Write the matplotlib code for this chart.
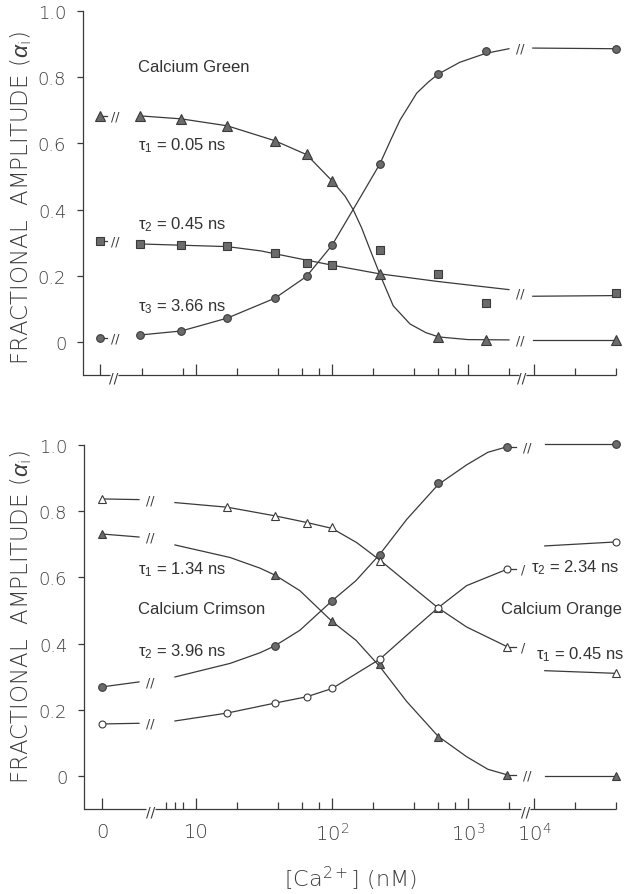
import numpy as np
import matplotlib
matplotlib.use("Agg")
import matplotlib.pyplot as plt

plt.rcParams['mathtext.fontset'] = 'custom'
plt.rcParams['mathtext.rm'] = 'Liberation Sans'
plt.rcParams['mathtext.it'] = 'Liberation Sans:italic'
plt.rcParams['mathtext.bf'] = 'Liberation Sans:bold'

# ---------------- data ----------------
# Calcium Green (top panel); concentrations in nM
conc_top = [0, 3.9, 7.8, 17, 38, 65, 100, 225, 602, 1350, 39800]
green_t1 = [0.683, 0.683, 0.674, 0.653, 0.608, 0.568, 0.487, 0.204, 0.015, 0.006, 0.006]
green_t2 = [0.304, 0.295, 0.292, 0.289, 0.268, 0.238, 0.232, 0.277, 0.204, 0.117, 0.147]
green_t3 = [0.012, 0.021, 0.033, 0.072, 0.132, 0.198, 0.292, 0.538, 0.809, 0.878, 0.884]

fit_t1_conc = [3.9, 7.8, 17, 38, 65, 100, 125, 143, 165, 190, 225, 282, 375, 490, 610, 1000, 2000]
fit_t1 = [0.683, 0.674, 0.653, 0.608, 0.566, 0.487, 0.44, 0.40, 0.345, 0.28, 0.204, 0.109, 0.054, 0.028, 0.015, 0.007, 0.006]
fit_t2_conc = [3.9, 17, 30, 60, 100, 222, 590, 1225, 2000]
fit_t2 = [0.296, 0.288, 0.275, 0.25, 0.232, 0.206, 0.183, 0.168, 0.158]
fit_t3_conc = [3.9, 7.8, 17, 38, 65, 100, 143, 180, 225, 270, 316, 420, 510, 602, 870, 1350, 2000]
fit_t3 = [0.021, 0.033, 0.072, 0.132, 0.198, 0.292, 0.40, 0.47, 0.538, 0.61, 0.67, 0.752, 0.785, 0.809, 0.845, 0.872, 0.886]

post_top_conc = [9800, 39800]
post_green_t1 = [0.006, 0.006]
post_green_t2 = [0.138, 0.140]
post_green_t3 = [0.888, 0.886]

# Calcium Crimson / Calcium Orange (bottom panel)
conc_crim = [0, 38, 100, 225, 602, 1950, 39800]
crim_t1 = [0.731, 0.607, 0.467, 0.338, 0.118, 0.003, 0.0]
crim_t2 = [0.269, 0.393, 0.529, 0.668, 0.885, 0.995, 1.003]
conc_orng = [0, 17, 38, 65, 100, 225, 602, 1950, 39800]
orng_t1 = [0.837, 0.813, 0.786, 0.765, 0.753, 0.65, 0.508, 0.39, 0.31]
orng_t2 = [0.157, 0.19, 0.22, 0.239, 0.266, 0.353, 0.508, 0.625, 0.707]

fit_crim_conc = [7, 17.8, 29.5, 38, 58, 100, 150, 225, 354, 602, 977, 1400, 1950]
fit_crim_t1 = [0.698, 0.66, 0.628, 0.607, 0.56, 0.467, 0.41, 0.33, 0.225, 0.12, 0.058, 0.02, 0.003]
fit_crim_t2 = [0.299, 0.34, 0.372, 0.393, 0.44, 0.529, 0.59, 0.67, 0.775, 0.88, 0.94, 0.978, 0.995]
fit_orng_conc = [7, 17, 38, 65, 100, 152, 225, 375, 602, 977, 1950]
fit_orng_t1 = [0.826, 0.812, 0.786, 0.766, 0.748, 0.705, 0.652, 0.577, 0.508, 0.45, 0.39]
fit_orng_t2 = [0.166, 0.19, 0.22, 0.239, 0.264, 0.31, 0.353, 0.434, 0.508, 0.575, 0.625]

zero_dash_crim_t1 = 0.722
zero_dash_crim_t2 = 0.284
zero_dash_orng_t1 = 0.835
zero_dash_orng_t2 = 0.159

post_bot_conc = [12000, 39800]
post_crim_t1 = [0.0, 0.0]
post_crim_t2 = [1.003, 1.003]
post_orng_t1 = [0.318, 0.31]
post_orng_t2 = [0.695, 0.707]

ytick_vals = [0, 0.2, 0.4, 0.6, 0.8, 1.0]
ytick_labels = ['0', '0.2', '0.4', '0.6', '0.8', '1.0']
xmajor = [0, 10, 100, 1000, 10000]
xmajor_labels = ['0', '10', r'$\mathregular{10^2}$', r'$\mathregular{10^3}$', r'$\mathregular{10^4}$']
xminor_top = [4, 8, 20, 40, 60, 80, 200, 400, 600, 800, 2000, 20000, 40000]
xminor_bot = [6, 7, 8, 20, 40, 60, 80, 200, 400, 600, 800, 2000, 20000, 40000]

# ---------------- layout / broken log scale ----------------
W, H = 629, 895
fig = plt.figure(figsize=(W / 100, H / 100), dpi=100)
fig.patch.set_facecolor('white')

DEC, PX10 = 136.0, 196.0


def u_of_px(px):
    return 1 + (px - PX10) / DEC


SHIFT = 4 - u_of_px(534)
C1, C2 = 2400.0, 8500.0


def make_scale(zero_px, brk_px):
    u0 = u_of_px(zero_px)
    ub = u_of_px(brk_px)
    ua = ub - 0.02
    cb = 10 ** ub
    l1 = np.log10(C1)
    l2 = np.log10(C2) - SHIFT

    def fwd(x):
        x = np.asarray(x, dtype=float)
        with np.errstate(all='ignore'):
            lx = np.log10(np.where(x > 0, x, 1.0))
            r = np.select([x <= 1, x < cb, x <= C1, x < C2],
                          [u0 + (ua - u0) * x, ua + 0.02 * (x - 1) / (cb - 1), lx,
                           l1 + (l2 - l1) * (x - C1) / (C2 - C1)],
                          lx - SHIFT)
        return r

    def inv(u):
        u = np.asarray(u, dtype=float)
        with np.errstate(all='ignore'):
            r = np.select([u <= ua, u < ub, u <= l1, u < l2],
                          [(u - u0) / (ua - u0), 1 + (u - ua) / 0.02 * (cb - 1), 10 ** u,
                           C1 + (u - l1) / (l2 - l1) * (C2 - C1)],
                          10 ** (u + SHIFT))
        return r
    return fwd, inv


LC = '#3a3a3a'
TC = '#3c3c3c'
FILL = '#6b6b6b'
NUMFONT = dict(family='DejaVu Sans', weight='light')
ANNFONT = dict(family='Liberation Sans', size=12, color='#333333')


def setup(ax, left_px, zero_px, brk_px, axis_gaps, brk_marks, minor, labels):
    fwd, inv = make_scale(zero_px, brk_px)
    ax.set_xscale('function', functions=(fwd, inv))
    cpx = lambda px: float(inv(np.array([u_of_px(px)]))[0])
    ax.set_xlim(cpx(left_px), cpx(616))
    ax.set_ylim(-0.1, 1.0)
    for s in ['top', 'right', 'bottom']:
        ax.spines[s].set_visible(False)
    ax.spines['left'].set_color(LC)
    ax.spines['left'].set_linewidth(0.9)
    ax.set_yticks(ytick_vals)
    ax.set_yticklabels(ytick_labels, fontsize=13, color=TC, **NUMFONT)
    ax.tick_params(axis='y', direction='out', length=4, width=0.9, color=LC, pad=8)
    ax.set_xticks(xmajor)
    ax.set_xticks(minor, minor=True)
    if labels:
        ax.set_xticklabels(xmajor_labels, fontsize=14, color=TC, **NUMFONT)
    else:
        ax.set_xticklabels([])
    ax.set_xticklabels([], minor=True)
    ax.tick_params(axis='x', which='major', direction='in', length=8, width=0.9, color=LC, pad=9)
    ax.tick_params(axis='x', which='minor', direction='in', length=5, width=0.9, color=LC)
    for a, b in axis_gaps:
        ax.plot([cpx(a), cpx(b)], [-0.1, -0.1], color=LC, lw=0.9, clip_on=False, solid_capstyle='butt')
    for p in brk_marks:
        ax.text(cpx(p), -0.107, '//', ha='center', va='center', fontsize=10, color=LC,
                family='DejaVu Sans', clip_on=False)
    return cpx


def mk(ax, x, y, marker, filled, ms):
    ax.plot(x, y, ls='none', marker=marker, ms=ms, mfc=FILL if filled else 'white',
            mec=LC, mew=0.8, zorder=4, clip_on=False)


def ln(ax, x, y):
    ax.plot(x, y, color=LC, lw=0.9, zorder=2, clip_on=False)


def slash(ax, x, y, s='//'):
    ax.text(x, y, s, ha='center', va='center', fontsize=9, color=LC, family='DejaVu Sans', zorder=5)


# ---------------- top panel ----------------
axT = fig.add_axes([83 / W, 1 - 376 / H, (616 - 83) / W, (376 - 12) / H])
cT = setup(axT, 83, 100, 113, [(83, 110), (118, 519), (526, 616)], [114, 522], xminor_top, False)

ln(axT, fit_t1_conc, fit_t1)
ln(axT, fit_t2_conc, fit_t2)
ln(axT, fit_t3_conc, fit_t3)
for ser, post, fit in [(green_t1, post_green_t1, fit_t1), (green_t2, post_green_t2, fit_t2),
                       (green_t3, post_green_t3, fit_t3)]:
    ln(axT, [0, cT(107)], [ser[0], ser[0]])
    slash(axT, cT(115), ser[0])
    slash(axT, cT(520), (fit[-1] + post[0]) / 2)
    ln(axT, post_top_conc, post)
mk(axT, conc_top, green_t1, '^', True, 6.5)
mk(axT, conc_top, green_t2, 's', True, 5.5)
mk(axT, conc_top, green_t3, 'o', True, 5.5)

# ---------------- bottom panel ----------------
axB = fig.add_axes([84 / W, 1 - 810 / H, (616 - 84) / W, (810 - 446) / H])
cB = setup(axB, 84, 102, 150, [(84, 146), (155, 521), (530, 616)], [151, 526], xminor_bot, True)

ln(axB, fit_crim_conc, fit_crim_t1)
ln(axB, fit_crim_conc, fit_crim_t2)
ln(axB, fit_orng_conc, fit_orng_t1)
ln(axB, fit_orng_conc, fit_orng_t2)
for conc, ser, dend, post, s in [(conc_crim, crim_t1, zero_dash_crim_t1, post_crim_t1, '//'),
                                 (conc_crim, crim_t2, zero_dash_crim_t2, post_crim_t2, '//'),
                                 (conc_orng, orng_t1, zero_dash_orng_t1, post_orng_t1, '/'),
                                 (conc_orng, orng_t2, zero_dash_orng_t2, post_orng_t2, '/')]:
    ln(axB, [0, cB(139)], [ser[0], dend])
    slash(axB, cB(150), dend, '//')
    ln(axB, [conc[-2], cB(516)], [ser[-2], ser[-2]])
    slash(axB, cB(523 if s == '/' else 527), ser[-2], s)
    ln(axB, post_bot_conc, post)
mk(axB, conc_crim, crim_t1, '^', True, 6)
mk(axB, conc_crim, crim_t2, 'o', True, 5.5)
mk(axB, conc_orng, orng_t1, '^', False, 5.5)
mk(axB, conc_orng, orng_t2, 'o', False, 5)


# ---------------- texts ----------------
def ftext(px, py, s, **kw):
    fig.text(px / W, 1 - py / H, s, va='center', **kw)


ftext(138, 67, 'Calcium Green', ha='left', **ANNFONT)
ftext(138, 146, r'τ$_\mathregular{1}$ = 0.05 ns', ha='left', **ANNFONT)
ftext(138, 225, r'τ$_\mathregular{2}$ = 0.45 ns', ha='left', **ANNFONT)
ftext(138, 307, r'τ$_\mathregular{3}$ = 3.66 ns', ha='left', **ANNFONT)

ftext(138, 570, r'τ$_\mathregular{1}$ = 1.34 ns', ha='left', **ANNFONT)
ftext(138, 610, 'Calcium Crimson', ha='left', **ANNFONT)
ftext(138, 652, r'τ$_\mathregular{2}$ = 3.96 ns', ha='left', **ANNFONT)
ftext(531, 568, r'τ$_\mathregular{2}$ = 2.34 ns', ha='left', **ANNFONT)
ftext(501, 610, 'Calcium Orange', ha='left', **ANNFONT)
ftext(536, 655, r'τ$_\mathregular{1}$ = 0.45 ns', ha='left', **ANNFONT)

ylab = r'FRACTIONAL  AMPLITUDE ($\alpha_\mathregular{i}$)'
fig.text(21 / W, 1 - 198 / H, ylab, rotation=90, ha='center', va='center', fontsize=16.5,
         color=TC, **NUMFONT)
fig.text(21 / W, 1 - 617 / H, ylab, rotation=90, ha='center', va='center', fontsize=16.5,
         color=TC, **NUMFONT)
fig.text(350 / W, 1 - 879 / H, r'[Ca$^\mathregular{2+}$] (nM)', ha='center', va='center',
         fontsize=16, color=TC, **NUMFONT)

fig.savefig('out.png', dpi=100, facecolor='white')
